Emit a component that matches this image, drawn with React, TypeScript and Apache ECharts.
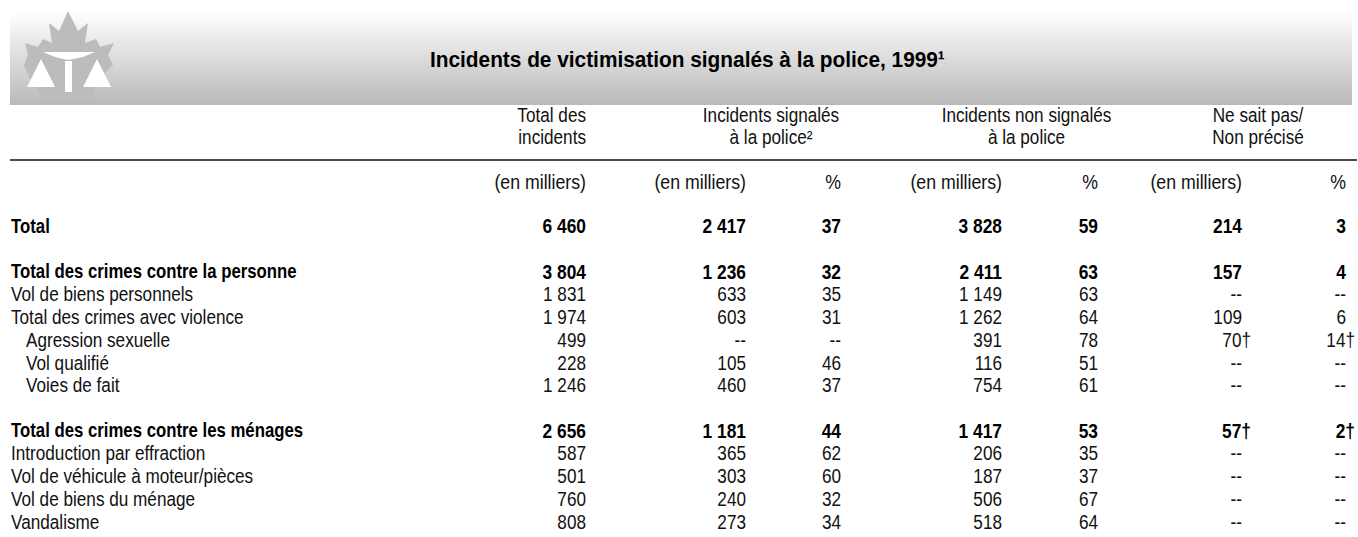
import React, { useEffect, useRef } from "react";
import * as echarts from "echarts";

const FONT = '"Liberation Sans", sans-serif';
const TEXT = "#111";
const SIZE = 19.5;
const REG_SCALE = 0.88;
const UNIT_SCALE = 0.91;
const BOLD_SCALE = 0.86;
const NUM_BOLD_SCALE = 0.89;

const title = "Incidents de victimisation signalés à la police, 1999¹";
const rowLabels = [
  "Total", "", "Total des crimes contre la personne", "Vol de biens personnels",
  "Total des crimes avec violence", "Agression sexuelle", "Vol qualifié", "Voies de fait", "",
  "Total des crimes contre les ménages", "Introduction par effraction",
  "Vol de véhicule à moteur/pièces", "Vol de biens du ménage", "Vandalisme",
];
const boldRows = ["Total", "Total des crimes contre la personne", "Total des crimes contre les ménages"];
const indentedRows = ["Agression sexuelle", "Vol qualifié", "Voies de fait"];

const totalIncidents = ["6 460", "", "3 804", "1 831", "1 974", "499", "228", "1 246", "", "2 656", "587", "501", "760", "808"];
const reportedK = ["2 417", "", "1 236", "633", "603", "--", "105", "460", "", "1 181", "365", "303", "240", "273"];
const reportedPct = ["37", "", "32", "35", "31", "--", "46", "37", "", "44", "62", "60", "32", "34"];
const notReportedK = ["3 828", "", "2 411", "1 149", "1 262", "391", "116", "754", "", "1 417", "206", "187", "506", "518"];
const notReportedPct = ["59", "", "63", "63", "64", "78", "51", "61", "", "53", "35", "37", "67", "64"];
const unknownK = ["214", "", "157", "--", "109", "70†", "--", "--", "", "57†", "--", "--", "--", "--"];
const unknownPct = ["3", "", "4", "--", "6", "14†", "--", "--", "", "2†", "--", "--", "--", "--"];

const unitK = "(en milliers)";
const unitPct = "%";

const columns = [
  { values: totalIncidents, right: 586, unit: unitK },
  { values: reportedK, right: 746, unit: unitK },
  { values: reportedPct, right: 841, unit: unitPct },
  { values: notReportedK, right: 1002, unit: unitK },
  { values: notReportedPct, right: 1098, unit: unitPct },
  { values: unknownK, right: 1242, unit: unitK },
  { values: unknownPct, right: 1346, unit: unitPct },
];

const leafPoints = [
  [68, 11], [78, 31], [88, 23], [85, 43], [96, 39], [100, 47], [114, 43], [108, 55], [113, 65],
  [95, 83], [95, 97], [43, 97], [32, 83], [24, 65], [28, 55], [25, 43], [38, 47], [43, 39], [52, 43], [49, 23], [59, 31],
];

const text = (x: number, y: number, t: string, align: string, extra: any = {}, scaleX = REG_SCALE) => ({
  type: "text",
  x,
  y,
  scaleX,
  silent: true,
  style: { text: t, align, verticalAlign: "middle", font: `${SIZE}px ${FONT}`, fill: TEXT, ...extra },
});

function cellSeries(values: string[], x: number, align: string, isNumber: boolean) {
  return {
    type: "custom",
    silent: true,
    clip: false,
    data: values.map((_, i) => [x, i]),
    renderItem: (params: any, api: any) => {
      const i = params.dataIndex;
      const v = values[i];
      if (!v) return null;
      const p = api.coord([api.value(0), i]);
      const bold = boldRows.includes(rowLabels[i]);
      const dx = v.endsWith("†") ? 9 : indentedRows.includes(v) ? 15 : 0;
      return {
        type: "text",
        x: p[0] + dx,
        y: p[1],
        scaleX: bold ? (isNumber ? NUM_BOLD_SCALE : BOLD_SCALE) : REG_SCALE,
        style: {
          text: v,
          align,
          verticalAlign: "middle",
          font: `${bold ? "bold " : ""}${SIZE}px ${FONT}`,
          fill: bold ? "#000" : TEXT,
        },
      };
    },
  };
}

export default function App() {
  const ref = useRef<HTMLDivElement>(null);
  useEffect(() => {
    document.body.style.margin = "0";
    const chart = echarts.init(ref.current!, null, { renderer: "svg" });
    chart.setOption({
      animation: false,
      backgroundColor: "#fff",
      grid: { left: 0, top: 215, width: 1358, height: 318 },
      xAxis: { type: "value", min: 0, max: 1358, show: false },
      yAxis: { type: "category", inverse: true, show: false, data: rowLabels.map((r, i) => r || `row${i}`) },
      series: [
        cellSeries(rowLabels, 11, "left", false),
        ...columns.map((c) => cellSeries(c.values, c.right, "right", true)),
      ],
      graphic: [
        {
          type: "rect",
          silent: true,
          shape: { x: 10, y: 12, width: 1342, height: 93 },
          style: {
            fill: new echarts.graphic.LinearGradient(0, 0, 0, 1, [
              { offset: 0, color: "#ffffff" },
              { offset: 1, color: "#b9b9b9" },
            ]),
          },
        },
        { type: "polygon", silent: true, shape: { points: leafPoints }, style: { fill: "#bcbcbc" } },
        { type: "polygon", silent: true, shape: { points: [[43, 52], [95, 52], [83, 57], [68, 60], [55, 57]] }, style: { fill: "#fff" } },
        { type: "rect", silent: true, shape: { x: 65, y: 61, width: 7, height: 31 }, style: { fill: "#fff" } },
        { type: "polygon", silent: true, shape: { points: [[41, 59], [55, 87], [27, 87]] }, style: { fill: "#fff" } },
        { type: "polygon", silent: true, shape: { points: [[97, 59], [111, 87], [83, 87]] }, style: { fill: "#fff" } },
        text(430, 60, title, "left", { font: `bold 22px ${FONT}`, fill: "#000" }, 0.947),
        text(586, 115.5, "Total des", "right"),
        text(586, 137.5, "incidents", "right"),
        text(771, 115.5, "Incidents signalés", "center"),
        text(771, 137.5, "à la police²", "center"),
        text(1026.5, 115.5, "Incidents non signalés", "center"),
        text(1026.5, 137.5, "à la police", "center"),
        text(1258, 115.5, "Ne sait pas/", "center"),
        text(1258, 137.5, "Non précisé", "center"),
        { type: "line", silent: true, shape: { x1: 10, y1: 160, x2: 1357, y2: 160 }, style: { stroke: "#111", lineWidth: 1.5 } },
        ...columns.map((c) => text(c.right, 182.5, c.unit, "right", {}, UNIT_SCALE)),
      ],
    });
    return () => chart.dispose();
  }, []);
  return <div ref={ref} style={{ position: "absolute", left: 0, top: 0, width: 1358, height: 537 }} />;
}
